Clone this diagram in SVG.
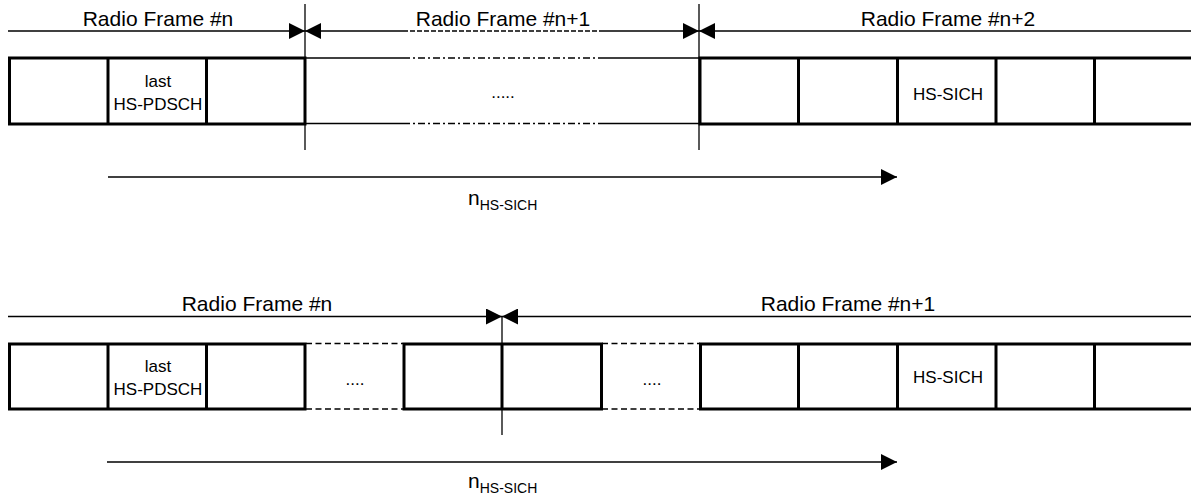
<svg xmlns="http://www.w3.org/2000/svg" width="1191" height="497" viewBox="0 0 1191 497">
<style>
text{font-family:"Liberation Sans",Arial,sans-serif;fill:#000}
.h{font-size:21px;text-anchor:middle}
.c{font-size:17px;text-anchor:middle}
.d{font-size:17px;text-anchor:middle}
.thin{stroke:#000;stroke-width:1.3;fill:none}
.thick{stroke:#000;stroke-width:3;fill:none}
.dd{stroke:#000;stroke-width:1.3;fill:none;stroke-dasharray:7 3 2 3}
.ds{stroke:#000;stroke-width:1.3;fill:none;stroke-dasharray:5 2}
.dl{stroke:#000;stroke-width:1.3;fill:none;stroke-dasharray:6 3.5}
</style>
<defs>
<marker id="ah" viewBox="0 0 10 10" refX="10" refY="5" markerUnits="userSpaceOnUse" markerWidth="17" markerHeight="16" orient="auto-start-reverse">
<path d="M0,0 L10,5 L0,10 z" fill="#000"/>
</marker>
</defs>
<rect width="1191" height="497" fill="#fff"/>

<!-- Upper diagram -->
<g id="upper-frames">
<text class="h" x="158" y="26">Radio Frame #n</text>
<text class="h" x="503" y="26">Radio Frame #n+1</text>
<text class="h" x="948" y="26">Radio Frame #n+2</text>
</g>
<g id="upper-frame-n">
<rect class="thick" x="9.5" y="58" width="295.5" height="66"/>
<line class="thick" x1="108" y1="58" x2="108" y2="124"/>
<line class="thick" x1="206.5" y1="58" x2="206.5" y2="124"/>
<text class="c" x="158" y="87">last</text>
<text class="c" x="158" y="110">HS-PDSCH</text>
</g>
<g id="upper-frame-n1">
<line class="thin" x1="305" y1="58" x2="403" y2="58"/>
<line class="dd" x1="403" y1="58" x2="600" y2="58"/>
<line class="thin" x1="600" y1="58" x2="699" y2="58"/>
<line class="thin" x1="305" y1="123.5" x2="403" y2="123.5"/>
<line class="dd" x1="403" y1="123.5" x2="600" y2="123.5"/>
<line class="thin" x1="600" y1="123.5" x2="699" y2="123.5"/>
<text class="d" x="503" y="98">.....</text>
</g>
<g id="upper-frame-n2">
<path class="thick" d="M1193,58 H700 V124 H1193"/>
<line class="thick" x1="798.5" y1="58" x2="798.5" y2="124"/>
<line class="thick" x1="897.5" y1="58" x2="897.5" y2="124"/>
<line class="thick" x1="996" y1="58" x2="996" y2="124"/>
<line class="thick" x1="1094.5" y1="58" x2="1094.5" y2="124"/>
<text class="c" x="948" y="100">HS-SICH</text>
</g>
<g id="upper-label">
<text x="468" y="205" style="font-size:21px">n<tspan style="font-size:14px" dy="5">HS-SICH</tspan></text>
</g>

<!-- Lower diagram -->
<g id="lower-frames">
<text class="h" x="257" y="311">Radio Frame #n</text>
<text class="h" x="848" y="311">Radio Frame #n+1</text>
</g>
<g id="lower-frame-n">
<rect class="thick" x="9.5" y="344" width="295.5" height="65"/>
<line class="thick" x1="108" y1="344" x2="108" y2="409"/>
<line class="thick" x1="206.5" y1="344" x2="206.5" y2="409"/>
<text class="c" x="158" y="372">last</text>
<text class="c" x="158" y="395">HS-PDSCH</text>
<line class="dl" x1="306" y1="343.5" x2="403" y2="343.5"/>
<line class="dl" x1="306" y1="409" x2="403" y2="409"/>
<text class="d" x="355" y="385">....</text>
<rect class="thick" x="404" y="344" width="197.5" height="65"/>
</g>
<g id="lower-frame-n1">
<line class="thick" x1="502" y1="344" x2="502" y2="409"/>
<line class="dl" x1="602" y1="343.5" x2="700" y2="343.5"/>
<line class="dl" x1="602" y1="409" x2="700" y2="409"/>
<text class="d" x="652" y="385">....</text>
<path class="thick" d="M1193,344 H700.5 V409 H1193"/>
<line class="thick" x1="798.5" y1="344" x2="798.5" y2="409"/>
<line class="thick" x1="897.5" y1="344" x2="897.5" y2="409"/>
<line class="thick" x1="996" y1="344" x2="996" y2="409"/>
<line class="thick" x1="1094.5" y1="344" x2="1094.5" y2="409"/>
<text class="c" x="948" y="383">HS-SICH</text>
</g>
<g id="lower-label">
<text x="468" y="488" style="font-size:21px">n<tspan style="font-size:14px" dy="5">HS-SICH</tspan></text>
</g>

<g id="connectors">
<line class="thin" x1="305" y1="4" x2="305" y2="150"/>
<line class="thin" x1="699" y1="4" x2="699" y2="150"/>
<line class="thin" x1="8" y1="31" x2="305" y2="31" marker-end="url(#ah)"/>
<line class="thin" x1="305" y1="31" x2="403" y2="31" marker-start="url(#ah)"/>
<line class="ds" x1="403" y1="31" x2="600" y2="31"/>
<line class="thin" x1="600" y1="31" x2="699" y2="31" marker-end="url(#ah)"/>
<line class="thin" x1="699" y1="31" x2="1191" y2="31" marker-start="url(#ah)"/>
<line class="thin" x1="108" y1="177" x2="897" y2="177" marker-end="url(#ah)"/>
<line class="thin" x1="502" y1="316" x2="502" y2="435"/>
<line class="thin" x1="8" y1="316.5" x2="502" y2="316.5" marker-end="url(#ah)"/>
<line class="thin" x1="502" y1="316.5" x2="1191" y2="316.5" marker-start="url(#ah)"/>
<line class="thin" x1="107" y1="462" x2="897" y2="462" marker-end="url(#ah)"/>
</g>
</svg>
